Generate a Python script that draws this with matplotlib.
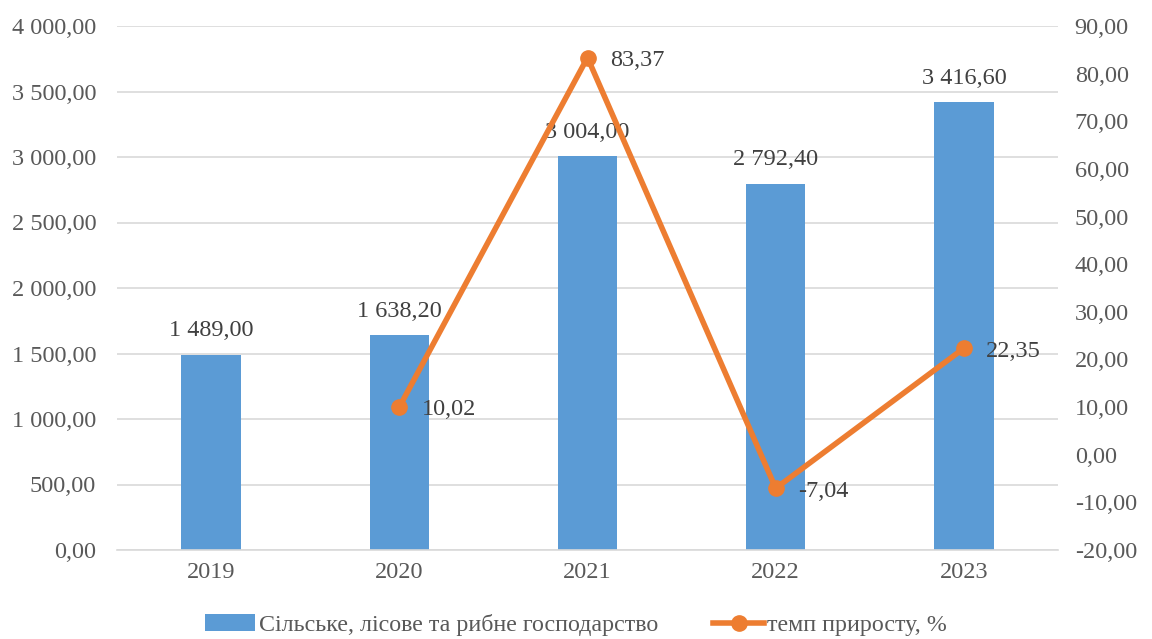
import matplotlib
matplotlib.use("Agg")
import matplotlib.pyplot as plt
from matplotlib.ticker import FuncFormatter
from matplotlib.patches import Patch
from matplotlib.lines import Line2D
import numpy as np

years = ["2019", "2020", "2021", "2022", "2023"]
values = [1489.00, 1638.20, 3004.00, 2792.40, 3416.60]
growth_years = ["2020", "2021", "2022", "2023"]
growth = [10.02, 83.37, -7.04, 22.35]

bar_label = "Сільське, лісове та рибне господарство"
line_label = "темп приросту, %"

plt.rcParams['font.family'] = ['Liberation Serif', 'DejaVu Serif']

BLUE = "#5B9BD5"
ORANGE = "#ED7D31"
TXT = "#595959"
LBL = "#404040"

def fmt(v, decimals=2):
    s = f"{abs(v):,.{decimals}f}"
    s = s.replace(",", " ").replace(".", ",")
    return ("-" if v < 0 else "") + s

fig = plt.figure(figsize=(11.52, 6.39), dpi=100)
ax = fig.add_axes([117/1152, 1 - 550/639, (1058-117)/1152, (550-26)/639])
ax2 = ax.twinx()

x = np.arange(len(years))
ax.bar(x, values, width=0.315, color=BLUE, zorder=2)
ax.set_ylim(0, 4000)
ax.set_yticks(np.arange(0, 4001, 500))
ax.set_xlim(-0.5, len(years) - 0.5)
ax.set_xticks(x)
ax.set_xticklabels(years)
ax.yaxis.set_major_formatter(FuncFormatter(lambda v, p: fmt(v)))
ax.grid(axis='y', color="#D9D9D9", linewidth=1.2, zorder=0)
ax.set_axisbelow(True)
for s in ax.spines.values():
    s.set_visible(False)
ax.spines['bottom'].set_visible(True)
ax.spines['bottom'].set_color("#D9D9D9")
ax.spines['bottom'].set_linewidth(1.2)
ax.tick_params(axis='y', length=0, labelsize=17.5, colors=TXT, pad=15)
ax.tick_params(axis='x', length=0, labelsize=17.5, colors=TXT, pad=9)

for xi, v in zip(x, values):
    ax.annotate(fmt(v), (xi, v), xytext=(0, 10), textcoords='offset points',
                ha='center', va='bottom', fontsize=17.5, color=LBL)

gx = [years.index(y) for y in growth_years]
ax2.plot(gx, growth, color=ORANGE, linewidth=4, marker='o', markersize=11,
         zorder=3)
ax2.set_ylim(-20, 90)
ax2.set_yticks(np.arange(-20, 91, 10))
ax2.yaxis.set_major_formatter(FuncFormatter(lambda v, p: fmt(v)))
for s in ax2.spines.values():
    s.set_visible(False)
ax2.tick_params(axis='y', length=0, labelsize=17.5, colors=TXT, pad=12)

for xi, g in zip(gx, growth):
    ax2.annotate(fmt(g), (xi, g), xytext=(16, -2), textcoords='offset points',
                 ha='left', va='center', fontsize=17.5, color=LBL)

handles = [Patch(facecolor=BLUE, label=bar_label),
           Line2D([0], [0], color=ORANGE, linewidth=4, marker='o',
                  markersize=11, label=line_label)]
fig.legend(handles=handles, loc='center', bbox_to_anchor=(0.5, 1 - 625/639),
           ncol=2, frameon=False, fontsize=17.3, labelcolor=TXT,
           handlelength=2.1, columnspacing=2.3, handletextpad=0.15,
           borderaxespad=0, borderpad=0)

fig.savefig("out.png", dpi=100)
